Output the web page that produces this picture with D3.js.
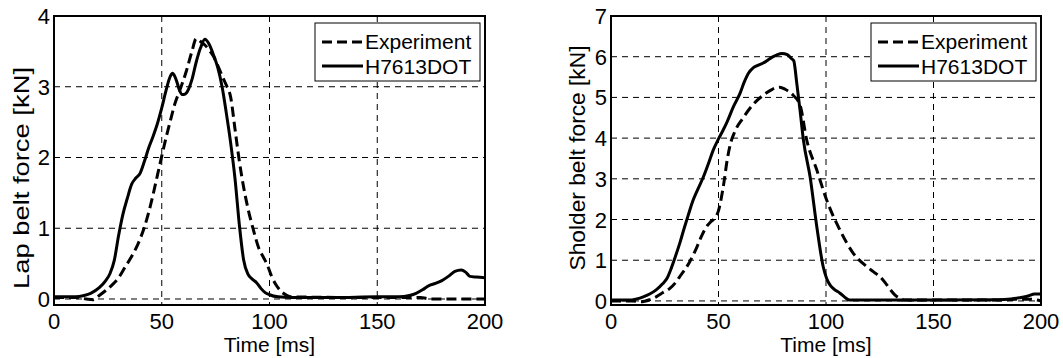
<!DOCTYPE html>
<html>
<head>
<meta charset="utf-8">
<script src="https://cdn.jsdelivr.net/npm/d3@7"></script>
<style>
  body { margin: 0; background: #fff; }
  svg { display: block; font-family: Arial, "Liberation Sans", sans-serif; }
</style>
</head>
<body>
<svg id="chart" width="1063" height="358"></svg>
<script>
// lap belt, simulation (H7613DOT)
const lapSimT = [0, 5, 10, 14, 17, 21, 24, 26, 28, 30, 32, 34, 36, 38, 40, 42, 44, 46, 48, 50, 52, 54, 55, 56, 57, 58, 59.5, 61, 62.5, 64, 66, 68, 70, 72, 74, 76, 78, 80, 82, 84, 86, 88, 90, 92, 94, 96, 98, 100, 104, 110, 130, 150, 160, 165, 168, 171, 174, 177, 180, 183, 186, 189, 191, 193, 196, 200];
const lapSimF = [0.03, 0.03, 0.03, 0.05, 0.08, 0.16, 0.26, 0.36, 0.55, 0.9, 1.2, 1.42, 1.62, 1.71, 1.78, 1.95, 2.14, 2.3, 2.48, 2.7, 2.95, 3.15, 3.19, 3.15, 3.07, 2.97, 2.89, 2.9, 2.97, 3.1, 3.35, 3.55, 3.67, 3.6, 3.45, 3.27, 3.0, 2.62, 2.2, 1.7, 1.05, 0.55, 0.35, 0.28, 0.23, 0.15, 0.09, 0.06, 0.03, 0.02, 0.02, 0.03, 0.03, 0.05, 0.08, 0.13, 0.19, 0.22, 0.26, 0.32, 0.39, 0.41, 0.38, 0.32, 0.31, 0.3];

// lap belt, experiment
const lapExpT = [0, 10, 15, 18, 21, 24, 27, 30, 33, 36, 39, 42, 45, 48, 50, 52, 54, 56, 58.5, 61.5, 64, 66, 68, 70, 72, 74, 76, 78.5, 80, 82, 84, 86, 88, 90, 92.5, 95, 97, 99, 101, 103, 105, 108, 110, 150, 170, 175, 200];
const lapExpF = [0.02, 0.02, 0.0, -0.01, 0.05, 0.12, 0.2, 0.3, 0.45, 0.6, 0.78, 1.02, 1.35, 1.75, 2.02, 2.28, 2.52, 2.75, 2.96, 3.23, 3.5, 3.68, 3.64, 3.59, 3.52, 3.43, 3.3, 3.12, 3.02, 2.85, 2.4, 1.95, 1.58, 1.28, 0.98, 0.72, 0.6, 0.48, 0.32, 0.2, 0.12, 0.05, 0.03, 0.02, 0.02, 0.0, 0.0];

// shoulder belt, simulation (H7613DOT)
const shSimT = [0, 8, 12, 15, 18, 21, 24, 26, 28, 30, 32, 34, 36, 38, 40, 43, 45.5, 47.5, 50, 52, 54, 57, 60, 62, 64, 66, 68, 71, 73, 75, 77, 79.5, 82, 84, 85, 86.4, 88, 89.5, 92.6, 95.7, 98.7, 100.3, 102, 104, 106.5, 109, 111, 150, 180, 186, 190, 194, 197, 200];
const shSimF = [0.02, 0.02, 0.05, 0.1, 0.17, 0.27, 0.42, 0.55, 0.8, 1.1, 1.42, 1.78, 2.12, 2.45, 2.7, 3.05, 3.4, 3.7, 3.98, 4.18, 4.4, 4.78, 5.1, 5.38, 5.6, 5.72, 5.78, 5.85, 5.92, 5.99, 6.04, 6.08, 6.05, 5.95, 5.9, 5.35, 4.65, 3.95, 3.05, 1.83, 0.84, 0.55, 0.38, 0.28, 0.19, 0.08, 0.02, 0.02, 0.03, 0.05, 0.08, 0.12, 0.17, 0.17];

// shoulder belt, experiment
const shExpT = [0, 10, 14, 18, 21, 24, 27.4, 30, 32, 34.5, 36.7, 40, 42, 44.5, 46.5, 48.5, 50, 51.2, 52.5, 54, 55.5, 57.5, 61.5, 66, 72, 75, 78.5, 81, 84.8, 88, 91, 95.7, 100.3, 106.5, 112.7, 119, 122, 125, 127.5, 130, 132, 134.5, 137, 180, 188, 195, 200];
const shExpF = [0.0, 0.0, -0.02, 0.03, 0.1, 0.2, 0.31, 0.45, 0.6, 0.78, 0.97, 1.33, 1.58, 1.83, 1.95, 2.05, 2.22, 2.5, 2.9, 3.45, 3.85, 4.15, 4.5, 4.82, 5.1, 5.2, 5.25, 5.2, 5.05, 4.8, 3.96, 3.22, 2.48, 1.74, 1.17, 0.84, 0.72, 0.6, 0.45, 0.27, 0.15, 0.06, 0.02, 0.02, 0.04, 0.04, 0.0];

const xTicks = [0, 50, 100, 150, 200];
const lapYTicks = [0, 1, 2, 3, 4];
const shYTicks = [0, 1, 2, 3, 4, 5, 6, 7];
const seriesNames = ['Experiment', 'H7613DOT'];

const zip = (ts, fs) => ts.map((t, i) => ({ t, f: fs[i] }));

const svg = d3.select('#chart');

function panel(opts) {
  const { left, right, top, bottom, yDomain, yTicks, yLabel, exp, sim, id, label } = opts;
  const x = d3.scaleLinear().domain([0, 200]).range([left, right]);
  const y = d3.scaleLinear().domain(yDomain).range([bottom, top]);
  const g = svg.append('g');

  g.append('clipPath').attr('id', id)
    .append('rect').attr('x', left).attr('y', top)
    .attr('width', right - left).attr('height', bottom - top);

  // grid
  g.selectAll('.vgrid').data(xTicks.filter(d => d > 0 && d < 200)).enter()
    .append('line')
    .attr('x1', d => x(d)).attr('x2', d => x(d))
    .attr('y1', top).attr('y2', bottom)
    .attr('stroke', '#000').attr('stroke-width', 1).attr('stroke-dasharray', '6,5');
  g.selectAll('.hgrid').data(yTicks.filter(d => d < yDomain[1])).enter()
    .append('line')
    .attr('x1', left).attr('x2', right)
    .attr('y1', d => y(d)).attr('y2', d => y(d))
    .attr('stroke', '#000').attr('stroke-width', 1).attr('stroke-dasharray', '6,5');

  const line = d3.line().x(d => x(d.t)).y(d => y(d.f)).curve(d3.curveMonotoneX);

  g.append('path').datum(exp)
    .attr('d', line).attr('fill', 'none').attr('stroke', '#000')
    .attr('stroke-width', 3).attr('stroke-dasharray', '10,5')
    .attr('clip-path', `url(#${id})`);
  g.append('path').datum(sim)
    .attr('d', line).attr('fill', 'none').attr('stroke', '#000')
    .attr('stroke-width', 3)
    .attr('clip-path', `url(#${id})`);

  // box
  g.append('rect').attr('x', left).attr('y', top)
    .attr('width', right - left).attr('height', bottom - top)
    .attr('fill', 'none').attr('stroke', '#000').attr('stroke-width', 2);

  // tick labels
  g.selectAll('.xt').data(xTicks).enter()
    .append('text')
    .attr('x', d => x(d)).attr('y', bottom + 24)
    .attr('text-anchor', 'middle').attr('font-size', 22)
    .text(d => d);
  g.selectAll('.yt').data(yTicks).enter()
    .append('text')
    .attr('x', left - 4).attr('y', d => y(d) + 8)
    .attr('text-anchor', 'end').attr('font-size', 22)
    .text(d => d);

  g.append('text')
    .attr('x', (left + right) / 2).attr('y', bottom + 47)
    .attr('text-anchor', 'middle').attr('font-size', 21)
    .text('Time [ms]');
  g.append('text')
    .attr('transform', `translate(${label.x},${label.y}) rotate(-90)`)
    .attr('text-anchor', 'middle').attr('font-size', 22)
    .attr('textLength', label.len).attr('lengthAdjust', 'spacingAndGlyphs')
    .text(yLabel);

  // legend
  const lx = right - 170, ly = top + 7;
  const leg = g.append('g').attr('transform', `translate(${lx},${ly})`);
  leg.append('rect').attr('width', 165).attr('height', 58)
    .attr('fill', '#fff').attr('stroke', '#000').attr('stroke-width', 1);
  leg.selectAll('.ll').data(seriesNames).enter()
    .append('line')
    .attr('x1', 7).attr('x2', 48)
    .attr('y1', (d, i) => 19 + i * 24).attr('y2', (d, i) => 19 + i * 24)
    .attr('stroke', '#000').attr('stroke-width', 3)
    .attr('stroke-dasharray', (d, i) => i === 0 ? '10,5' : null);
  leg.selectAll('.lt').data(seriesNames).enter()
    .append('text')
    .attr('x', 50).attr('y', (d, i) => 26 + i * 25)
    .attr('font-size', 21)
    .text(d => d);
}

panel({
  id: 'clipL', left: 54, right: 485, top: 16, bottom: 305,
  yDomain: [-0.085, 4], yTicks: lapYTicks, yLabel: 'Lap belt force [kN]',
  exp: zip(lapExpT, lapExpF), sim: zip(lapSimT, lapSimF),
  label: { x: 29, y: 178, len: 222 }
});
panel({
  id: 'clipR', left: 611, right: 1041, top: 16, bottom: 305,
  yDomain: [-0.1, 7], yTicks: shYTicks, yLabel: 'Sholder belt force [kN]',
  exp: zip(shExpT, shExpF), sim: zip(shSimT, shSimF),
  label: { x: 585, y: 158, len: 225 }
});
</script>
</body>
</html>
